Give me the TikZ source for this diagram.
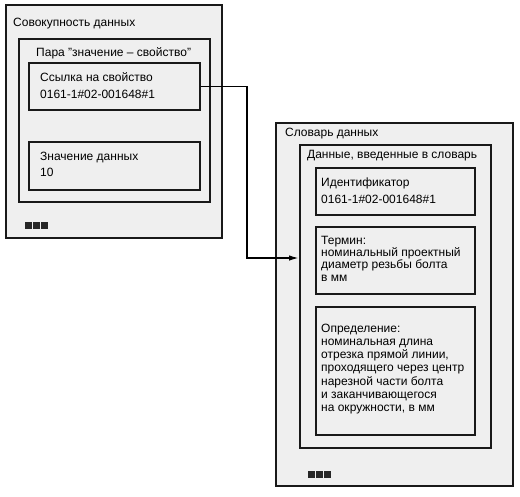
\documentclass[tikz,border=0pt]{standalone}
\usepackage{fontspec}
\setmainfont{Liberation Sans}
\usetikzlibrary{arrows.meta}
\definecolor{boxfill}{HTML}{EFEFEF}
\newcommand{\topstrut}{\rule{0pt}{10pt}}
\tikzset{
  x=1pt, y=-1pt,
  frame/.style={draw=black!90, line width=1.8pt, fill=boxfill, anchor=north west, inner sep=0pt},
  lbl/.style={anchor=base west, inner sep=0pt, font=\fontsize{12}{13.2}\selectfont, align=left},
  mlbl/.style={lbl, anchor=north west},
  sq/.style={fill=black!85, draw=none, minimum size=6.5pt, inner sep=0pt, anchor=north west},
  conn/.style={line width=1.6pt, -{Latex[length=10pt,width=5.5pt]}}
}
\begin{document}
\begin{tikzpicture}
\useasboundingbox (0,0) rectangle (520,496);
% left group
\node[frame, minimum width=216pt, minimum height=233pt] (set) at (5,4) {};
\node[lbl] (settxt) at (13,26) {Совокупность данных};
\node[frame, minimum width=191pt, minimum height=163pt] (pair) at (18,38) {};
\node[lbl] (pairtxt) at (36,56) {Пара "значение -- свойство"};
\node[frame, minimum width=171pt, minimum height=47pt] (link) at (28,62) {};
\node[mlbl] (linktxt) at (40,71) {\topstrut Ссылка на свойство\\[3.8pt]0161-1\#02-001648\#1};
\node[frame, minimum width=171pt, minimum height=48pt] (val) at (28,141) {};
\node[mlbl] (valtxt) at (40,150) {\topstrut Значение данных\\[2.8pt]10};
\node[sq] (s1) at (25,222) {};
\node[sq] (s2) at (33,222) {};
\node[sq] (s3) at (41,222) {};
% right group
\node[frame, minimum width=237pt, minimum height=363pt] (dict) at (275,122) {};
\node[lbl] (dicttxt) at (285,136) {Словарь данных};
\node[frame, minimum width=191pt, minimum height=303pt] (data) at (299,144) {};
\node[lbl] (datatxt) at (307,158) {Данные, введенные в словарь};
\node[frame, minimum width=159pt, minimum height=47pt] (ident) at (315,167) {};
\node[mlbl] (identtxt) at (321,176) {\topstrut Идентификатор\\[3.8pt]0161-1\#02-001648\#1};
\node[frame, minimum width=159pt, minimum height=67pt] (term) at (315,226) {};
\node[mlbl, font=\fontsize{12}{12.3}\selectfont] (termtxt) at (321,234) {\topstrut Термин:\\номинальный проектный\\диаметр резьбы болта\\в мм};
\node[frame, minimum width=159pt, minimum height=128pt] (def) at (315,306) {};
\node[mlbl] (deftxt) at (321,322) {\topstrut Определение:\\номинальная длина\\отрезка прямой линии,\\проходящего через центр\\нарезной части болта\\и заканчивающегося\\на окружности, в мм};
\node[sq] (t1) at (308,471) {};
\node[sq] (t2) at (316,471) {};
\node[sq] (t3) at (324,471) {};
% connector
\coordinate (turn) at (247,258);
\draw[conn] (link.east) -| (turn) -- (turn -| data.west);
\end{tikzpicture}
\end{document}
